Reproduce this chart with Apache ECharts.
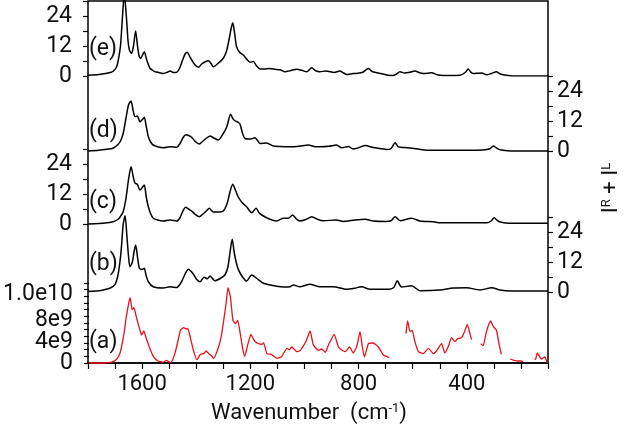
<!DOCTYPE html>
<html><head><meta charset="utf-8">
<script src="https://cdn.jsdelivr.net/npm/echarts@6/dist/echarts.min.js"></script>
<style>html,body{margin:0;padding:0;background:#fff}#c{width:625px;height:429px}</style>
</head><body><div id="c"></div>
<script>
// Wavenumber (cm-1) / intensity pairs
const panelE = [[1800,0.3],[1760,0.6],[1730,1.1],[1715,1.5],[1707,1.9],[1695,3.5],[1688,6.4],[1680,12],[1675,19.7],[1670,28],[1666,33],[1662,29],[1657,22],[1652,14],[1647,10.4],[1639,9],[1632,12],[1624,18],[1617,12],[1611,8],[1605,7],[1598,8.5],[1592,9.7],[1583,6.4],[1571,3.1],[1560,2.2],[1552,1.7],[1535,1.3],[1520,1.0],[1505,1.6],[1497,2.0],[1485,1.4],[1472,1.5],[1460,3.5],[1450,6.5],[1441,8.8],[1433,9.5],[1425,8],[1417,6.5],[1405,4.5],[1392,3.5],[1380,4.8],[1368,5.6],[1355,6.1],[1345,5],[1337,3.7],[1320,5],[1300,7.1],[1288,10],[1278,15],[1271,19],[1265,21.3],[1258,17],[1251,11.7],[1240,9.5],[1226,8.4],[1214,6.8],[1201,5.5],[1189,5.8],[1177,4],[1164,2.8],[1150,2.8],[1130,3],[1109,2.7],[1090,2.5],[1072,1.7],[1050,2.2],[1029,2.7],[1010,2.3],[992,1.7],[973,3.3],[960,2.2],[943,1.7],[920,2.0],[890,1.4],[870,2.0],[855,1.2],[844,0.6],[820,1.0],[802,1.1],[785,1.5],[764,3.0],[750,1.8],[733,1.3],[710,0.8],[690,0.3],[673,0.2],[660,0.8],[647,1.7],[630,1.2],[610,1.5],[592,2.0],[575,1.3],[562,1.0],[545,1.1],[530,1.3],[510,0.5],[488,0.2],[460,0.2],[425,0.3],[405,1.5],[395,2.8],[385,1.5],[377,1.0],[360,1.1],[345,1.2],[327,0.5],[310,1.0],[290,1.7],[280,1.0],[266,0.5],[240,0.1],[216,0],[150,0],[100,0]];
const panelD = [[1800,0],[1760,0.3],[1730,0.7],[1708,1.1],[1690,2.5],[1680,4],[1670,7],[1660,13],[1650,18.5],[1641,20],[1633,16],[1626,13.7],[1618,14],[1608,11.7],[1600,12.5],[1592,13.5],[1585,10],[1577,5.7],[1568,3.5],[1559,2.4],[1540,1.6],[1522,1.3],[1497,1.7],[1472,1.5],[1460,3],[1448,5.5],[1438,6.5],[1428,6.2],[1417,5.5],[1405,4],[1389,2.8],[1375,4],[1360,5.3],[1349,6],[1335,5.2],[1318,4.4],[1300,7],[1287,9.7],[1273,14.7],[1265,13],[1257,12.1],[1245,11.5],[1238,10.7],[1230,7.5],[1220,5],[1200,4.8],[1183,5.3],[1172,4],[1164,3],[1140,3.2],[1115,2],[1090,1.8],[1054,1.7],[1020,1.9],[986,2.4],[965,1.8],[943,1.7],[910,1.9],[881,2.4],[863,1.3],[838,1.8],[820,0.8],[800,1.3],[776,2.2],[746,1.4],[720,1.0],[696,0.6],[680,1.0],[665,3.3],[655,1.8],[647,1.5],[630,1.4],[610,1.2],[580,0.8],[548,0.3],[500,0.3],[460,0.3],[400,0.3],[340,0.4],[315,0.9],[302,2],[290,1.2],[277,0.5],[250,0.1],[216,0],[100,0]];
const panelC = [[1800,0],[1760,0.2],[1730,0.5],[1707,0.9],[1690,1.8],[1680,3],[1670,4.9],[1660,10],[1650,18],[1641,22.9],[1633,19],[1626,16.3],[1618,15.9],[1608,13.6],[1600,14.5],[1592,15.6],[1585,11],[1577,6.9],[1568,4],[1559,2.3],[1540,1.5],[1522,1.2],[1497,1.6],[1472,1.2],[1460,2.5],[1450,5],[1439,6.7],[1428,6],[1417,5.2],[1403,3.8],[1389,2.9],[1375,4],[1360,5.5],[1352,6.3],[1337,4.8],[1318,4.8],[1300,5.2],[1285,8.5],[1275,13],[1265,15.9],[1255,13.5],[1245,10.9],[1230,8.5],[1214,6.9],[1195,4.5],[1179,6.3],[1168,4.5],[1158,3.6],[1130,2],[1103,1.2],[1078,2.3],[1060,2.3],[1044,3.6],[1030,2],[1017,1.2],[995,1.8],[973,2.9],[950,1.8],[930,1.3],[881,1.6],[857,1.0],[813,1.6],[776,1.9],[746,1.2],[700,1.0],[680,1.3],[665,2.9],[647,1.3],[604,2.3],[573,1.2],[524,0.9],[499,0.5],[400,0.5],[326,0.5],[310,1.2],[299,2.5],[288,1.5],[277,0.8],[240,0.3],[100,0.3]];
const panelB = [[1800,0.2],[1760,0.5],[1740,0.9],[1719,1.5],[1700,3],[1688,7.5],[1678,16],[1670,27],[1663,30.5],[1656,22],[1650,14],[1645,10.1],[1636,12],[1630,16],[1624,18.8],[1617,14],[1610,9.5],[1600,9],[1592,9.5],[1585,6.5],[1577,4.1],[1559,2.1],[1522,1.6],[1497,2.1],[1472,1.8],[1455,4],[1440,7.5],[1429,9.1],[1411,7.2],[1398,5],[1386,4.1],[1371,5.9],[1359,5.3],[1349,6.4],[1331,4.5],[1310,5.5],[1294,6.8],[1283,10],[1275,16],[1267,21.1],[1260,16],[1248,10.1],[1235,7],[1214,4.4],[1195,6.8],[1177,5.5],[1152,3.5],[1103,2.3],[1075,2],[1054,2.1],[1041,2.8],[1017,2.1],[980,3.1],[943,2.1],[893,2.1],[844,1.1],[815,1.5],[789,2.1],[758,1.1],[690,1.1],[670,1.8],[657,4.5],[648,2.8],[641,2],[604,2.5],[573,0.5],[499,0.8],[450,1.6],[401,1.7],[351,0.8],[308,1.7],[277,0.8],[240,0.4],[100,0.4]];
// panel (a): intensity in units of 1e9; '-' marks gaps in the measured trace
const panelA = [[1800,0],[1750,0],[1726,0.05],[1710,0.2],[1695,0.7],[1685,1.5],[1677,2.9],[1668,5],[1662,6.9],[1655,8.5],[1648,9.8],[1644,9],[1640,8.0],[1635,8.3],[1631,8.0],[1625,7],[1618,5.9],[1610,4.8],[1605,4.2],[1597,4.8],[1588,3.7],[1580,2.8],[1572,1.9],[1563,1.1],[1554,0.6],[1545,0.3],[1535,0.2],[1525,0.1],[1513,0.4],[1505,0.2],[1498,0.05],[1490,0.5],[1482,1.4],[1472,3],[1461,4.9],[1449,5.3],[1440,5.1],[1434,5.2],[1424,3.7],[1412,1.7],[1400,0.5],[1387,1.3],[1375,1.4],[1366,1.8],[1354,1.3],[1345,1.0],[1338,0.7],[1320,2.4],[1310,4],[1301,6.4],[1292,9],[1285,11.3],[1276,9.9],[1267,6.4],[1258,5.9],[1249,6.4],[1239,4.2],[1230,2],[1223,1.0],[1211,2.9],[1200,4.3],[1190,3.5],[1184,3.2],[1172,2.9],[1160,2.8],[1153,3.0],[1141,1.4],[1125,1.3],[1115,1.0],[1104,0.7],[1095,0.8],[1086,1.0],[1067,2.2],[1058,2.0],[1049,2.4],[1030,1.7],[1020,1.8],[1012,2.2],[997,3.2],[981,4.8],[969,2.7],[950,1.9],[938,2.1],[925,1.6],[913,2.7],[892,4.3],[876,2.4],[863,1.9],[851,1.7],[835,2.4],[821,1.5],[808,2.5],[796,4.7],[788,2.5],[780,0.9],[765,2.9],[747,3.0],[728,2.4],[710,1.2],[698,1.0],[688,0.8],[660,'-'],[626,4.4],[620,6.3],[611,4.7],[603,4.9],[593,3.2],[580,1.7],[562,1.4],[543,2.2],[525,1.4],[513,1.8],[494,2.9],[482,1.5],[469,2.5],[457,3.8],[445,3.2],[433,3.7],[420,3.8],[410,4.6],[399,5.8],[389,4.4],[383,3.5],[365,'-'],[349,2.9],[340,2.6],[328,4.7],[313,6.3],[303,5.5],[291,4.9],[282,3],[273,1.3],[255,'-'],[240,0.6],[225,0.4],[211,0.3],[200,0.3],[192,0.2],[170,'-'],[149,0.45],[144,0.8],[140,1.5],[135,1.2],[131,1.0],[127,0.7],[122,0.6],[117,0.8],[112,0.9],[108,0.6],[103,0]];
const scaleA = 1e9;
const panelLabels = ['(e)','(d)','(c)','(b)','(a)'];
const xTickLabels = [400, 800, 1200, 1600];
const yTickLabels = [0, 12, 24];
const aTickValues = [0, 4e9, 8e9, 1e10];
const aTickTexts = ['0', '4e9', '8e9', '1.0e10'];

const FONT = 'Roboto';
const chart = echarts.init(document.getElementById('c'), null, {renderer: 'canvas'});
const L = 88, R = 77;
const grids = [
  {left: L, right: R, top: 1, height: 362, show: true, borderColor: '#000', borderWidth: 1.5, backgroundColor: 'transparent'},
  {left: L, right: R, top: 1, height: 75},
  {left: L, right: R, top: 76, height: 75},
  {left: L, right: R, top: 149, height: 75},
  {left: L, right: R, top: 217, height: 75},
  {left: L, right: R, top: 283, height: 80}
];
const xAxes = grids.map((g, i) => ({
  type: 'value', gridIndex: i, min: 100, max: 1800, inverse: true, interval: 100,
  show: i === 0,
  axisLine: {show: true, lineStyle: {color: '#000', width: 1.5}},
  axisTick: {show: true, length: 6, lineStyle: {color: '#000', width: 1.2}},
  splitLine: {show: false},
  axisLabel: {show: true, margin: 10, fontFamily: FONT, fontSize: 22, color: '#111',
    formatter: v => xTickLabels.includes(v) ? String(v) : ''}
}));
function panelY(i, pos) {
  return {
    type: 'value', gridIndex: i, min: 0, max: 30, interval: 6, position: pos,
    axisLine: {show: false}, splitLine: {show: false},
    axisTick: {show: true, length: 5, lineStyle: {color: '#000', width: 1.2}},
    axisLabel: {margin: pos === 'left' ? 16 : 9, fontFamily: FONT, fontSize: 23, color: '#111',
      formatter: v => yTickLabels.includes(v) ? String(v) : ''}
  };
}
// label nudges so the (a) labels sit where the reference prints them
const aRich = {
  t0: {fontFamily: FONT, fontSize: 23, color: '#111'},
  t1: {fontFamily: FONT, fontSize: 23, color: '#111', padding: [12, 0, 0, 0]},
  t2: {fontFamily: FONT, fontSize: 23, color: '#111', padding: [22, 0, 0, 0]},
  t3: {fontFamily: FONT, fontSize: 23, color: '#111', padding: [0, 0, 4, 0]}
};
const yAxes = [
  {type: 'value', gridIndex: 0, min: 0, max: 1, show: false},
  panelY(1, 'left'), panelY(2, 'right'), panelY(3, 'left'), panelY(4, 'right'),
  {type: 'value', gridIndex: 5, min: 0, max: 12e9, interval: 1e9, position: 'left',
    axisLine: {show: false}, splitLine: {show: false},
    axisTick: {show: true, length: 5, lineStyle: {color: '#000', width: 1.2}},
    axisLabel: {margin: 16, fontFamily: FONT, fontSize: 23, color: '#111', rich: aRich,
      formatter: v => { const k = aTickValues.indexOf(v); return k >= 0 ? '{t' + k + '|' + aTickTexts[k] + '}' : ''; }}}
];
function blk(data, idx, clip) {
  return {type: 'line', xAxisIndex: idx, yAxisIndex: idx, data: data, showSymbol: false,
    smooth: 0.25, clip: clip, lineStyle: {color: '#000', width: 1.5}, silent: true};
}
const series = [
  blk(panelE, 1, true), blk(panelD, 2, false), blk(panelC, 3, false), blk(panelB, 4, false),
  {type: 'line', xAxisIndex: 5, yAxisIndex: 5, showSymbol: false, smooth: 0.15, clip: false,
    connectNulls: false, silent: true,
    data: panelA.map(p => [p[0], p[1] === '-' ? '-' : p[1] * scaleA]),
    lineStyle: {color: '#e8101a', width: 1.3}}
];
const labelY = [52, 134, 205, 267, 345];
const graphic = panelLabels.map((t, i) => ({
  type: 'text', left: 89, top: labelY[i] - 14,
  style: {text: t, fontFamily: FONT, fontSize: 23, fill: '#111'}
}));
graphic.push({
  type: 'text', x: 309, y: 413,
  style: {text: '{m|Wavenumber  (cm}{s|-1}{m|)}', align: 'center', verticalAlign: 'middle',
    rich: {m: {fontFamily: FONT, fontSize: 22, fill: '#111'},
           s: {fontFamily: FONT, fontSize: 13, fill: '#111', verticalAlign: 'top'}}}
});
graphic.push({
  type: 'text', x: 611, y: 188, rotation: Math.PI / 2,
  style: {text: '{m|I}{s|R}{m| + I}{s|L}', align: 'center', verticalAlign: 'middle',
    rich: {m: {fontFamily: FONT, fontSize: 22, fill: '#111'},
           s: {fontFamily: FONT, fontSize: 13, fill: '#111', verticalAlign: 'top'}}}
});
chart.setOption({
  animation: false, backgroundColor: '#fff',
  grid: grids, xAxis: xAxes, yAxis: yAxes, series: series, graphic: graphic
});
</script></body></html>
